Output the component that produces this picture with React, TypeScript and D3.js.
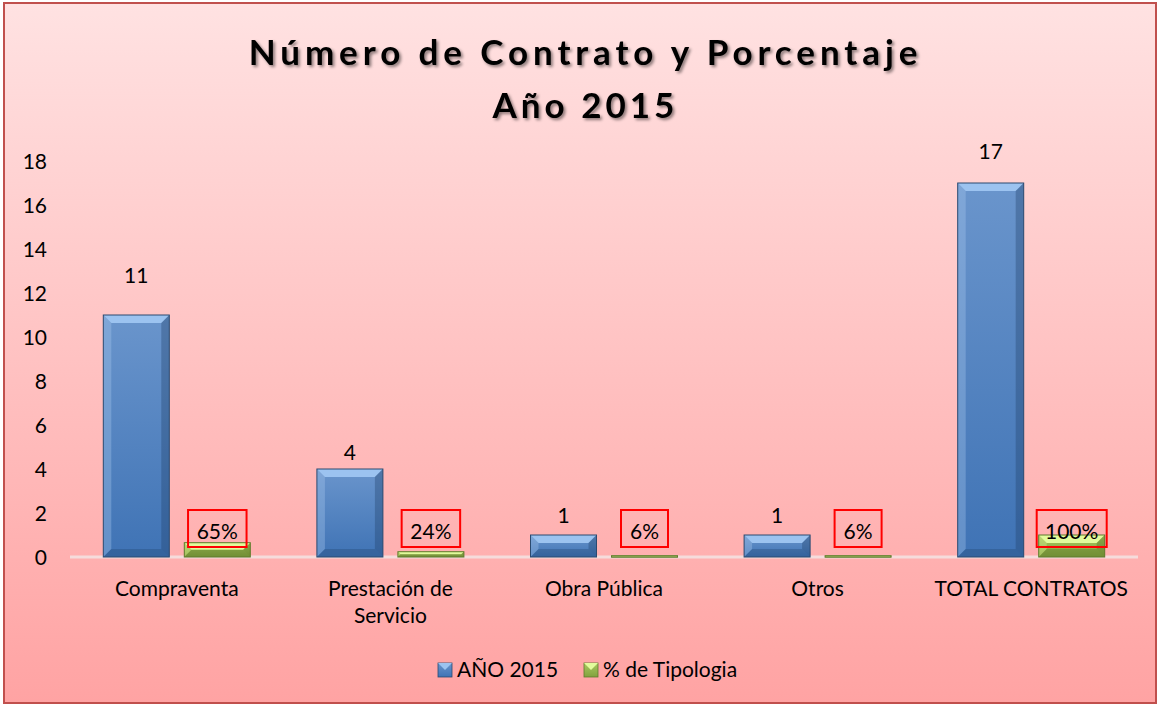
import React from "react";
import * as d3 from "d3";

const categories: string[][] = [
  ["Compraventa"],
  ["Prestación de", "Servicio"],
  ["Obra Pública"],
  ["Otros"],
  ["TOTAL CONTRATOS"],
];
const contratos: number[] = [11, 4, 1, 1, 17];
const tipologia: number[] = [0.65, 0.24, 0.06, 0.06, 1.0];
const yTicks: number[] = [0, 2, 4, 6, 8, 10, 12, 14, 16, 18];
const seriesNames: string[] = ["AÑO 2015", "% de Tipologia"];
const titleLines: string[] = ["Número de Contrato y Porcentaje", "Año 2015"];

// layout: distance (px) of each count label above its bar (manually placed in the original)
const countLabelGap: number[] = [40, 17, 20, 20, 32];

const W = 1159;
const H = 706;
const FONT = "Lato, 'Open Sans', sans-serif";
const FS = 21;

function BevelBar({ x, y, w, h, light, mid, dark, edge, top }: any) {
  const b = Math.min(8, h / 2, w / 2);
  return (
    <g>
      <rect x={x} y={y} width={w} height={h} fill={mid} />
      <polygon
        points={`${x},${y} ${x + w},${y} ${x + w - b},${y + b} ${x + b},${y + b}`}
        fill={top}
      />
      <polygon
        points={`${x},${y} ${x + b},${y + b} ${x + b},${y + h - b} ${x},${y + h}`}
        fill={light}
        opacity={0.35}
      />
      <polygon
        points={`${x + w},${y} ${x + w - b},${y + b} ${x + w - b},${y + h - b} ${x + w},${y + h}`}
        fill={dark}
        opacity={0.35}
      />
      <polygon
        points={`${x},${y + h} ${x + b},${y + h - b} ${x + w - b},${y + h - b} ${x + w},${y + h}`}
        fill={dark}
        opacity={0.3}
      />
      <rect x={x} y={y} width={w} height={h} fill="none" stroke={edge} strokeWidth={1} />
    </g>
  );
}

export default function App() {
  const plot = { left: 70, right: 1138, top: 161, bottom: 557 };
  const x = d3
    .scaleBand<number>()
    .domain(d3.range(categories.length))
    .range([plot.left, plot.right])
    .paddingInner(0)
    .paddingOuter(0);
  const y = d3.scaleLinear().domain([0, 18]).range([plot.bottom, plot.top]);
  const bw = x.bandwidth();
  const barW = 66;
  const gap = 15;
  const groupW = barW * 2 + gap;
  const off = (bw - groupW) / 2;
  const pctFmt = d3.format(".0%");

  return (
    <svg
      width={W}
      height={H}
      style={{ position: "absolute", left: 0, top: 0, fontFamily: FONT }}
    >
      <defs>
        <linearGradient id="bg" x1="0" y1="0" x2="0" y2="1">
          <stop offset="0" stopColor="#ffe2e2" />
          <stop offset="1" stopColor="#ffa3a3" />
        </linearGradient>
        <linearGradient id="blueG" x1="0" y1="0" x2="0" y2="1">
          <stop offset="0" stopColor="#6a95cc" />
          <stop offset="1" stopColor="#3f73b5" />
        </linearGradient>
        <linearGradient id="greenG" x1="0" y1="0" x2="0" y2="1">
          <stop offset="0" stopColor="#a9c860" />
          <stop offset="1" stopColor="#82a23e" />
        </linearGradient>
        <filter id="tshadow" x="-10%" y="-30%" width="120%" height="160%">
          <feDropShadow dx="2" dy="2" stdDeviation="1.8" floodColor="#000" floodOpacity="0.45" />
        </filter>
      </defs>
      <rect x={4} y={3} width={1152} height={700} fill="url(#bg)" stroke="#c0504d" strokeWidth={2} />

      {titleLines.map((t, i) => (
        <text
          key={i}
          x={W / 2 + 6}
          y={65 + i * 53}
          textAnchor="middle"
          fontSize={35}
          fontWeight="bold"
          letterSpacing={i === 0 ? 4.9 : 4.0}
          fill="#000"
          filter="url(#tshadow)"
        >
          {t}
        </text>
      ))}

      {yTicks.map((t) => (
        <text key={t} x={47} y={y(t) + 7.5} textAnchor="end" fontSize={FS} fill="#000">
          {t}
        </text>
      ))}

      <line
        x1={plot.left}
        x2={plot.right}
        y1={plot.bottom}
        y2={plot.bottom}
        stroke="#f5dcdc"
        strokeWidth={3}
      />

      {contratos.map((v, i) => {
        const bx = (x(i) as number) + off;
        return (
          <g key={"b" + i}>
            <BevelBar
              x={bx}
              y={y(v)}
              w={barW}
              h={y(0) - y(v)}
              mid="url(#blueG)"
              top="#9cc3f0"
              light="#a8c8ee"
              dark="#1f3f66"
              edge="#2b4a70"
            />
            <text
              x={bx + barW / 2}
              y={y(v) - countLabelGap[i] + 7.5}
              textAnchor="middle"
              fontSize={FS}
            >
              {v}
            </text>
          </g>
        );
      })}

      {tipologia.map((v, i) => {
        const gx = (x(i) as number) + off + barW + gap;
        const cx = gx + barW / 2;
        const label = pctFmt(v);
        const tw = label.length * 11.5 + 24;
        return (
          <g key={"g" + i}>
            <BevelBar
              x={gx}
              y={y(v)}
              w={barW}
              h={Math.max(y(0) - y(v), 1.5)}
              mid="url(#greenG)"
              top="#e2fb9c"
              light="#dff59a"
              dark="#4d6420"
              edge="#5f7a2c"
            />
            <rect
              x={cx - tw / 2}
              y={510}
              width={tw}
              height={37}
              fill="none"
              stroke="#ff0000"
              strokeWidth={2}
            />
            <text x={cx} y={539} textAnchor="middle" fontSize={FS}>
              {label}
            </text>
          </g>
        );
      })}

      {categories.map((lines, i) => (
        <text
          key={"c" + i}
          x={(x(i) as number) + bw / 2}
          y={596}
          textAnchor="middle"
          fontSize={FS}
        >
          {lines.map((l, j) => (
            <tspan key={j} x={(x(i) as number) + bw / 2} dy={j === 0 ? 0 : 27}>
              {l}
            </tspan>
          ))}
        </text>
      ))}

      <g>
        {seriesNames.map((s, i) => {
          const lx = i === 0 ? 438 : 584;
          const gid = i === 0 ? "url(#blueG)" : "url(#greenG)";
          return (
            <g key={"l" + i}>
              <rect x={lx} y={663} width={14} height={14} fill={gid} stroke={i === 0 ? "#2b4a70" : "#5f7a2c"} strokeWidth={0.8} />
              <polygon
                points={`${lx},${663} ${lx + 14},${663} ${lx + 7},${670}`}
                fill={i === 0 ? "#9cc3f0" : "#e2fb9c"}
              />
              <text x={lx + 19} y={677} fontSize={FS}>
                {s}
              </text>
            </g>
          );
        })}
      </g>
    </svg>
  );
}
